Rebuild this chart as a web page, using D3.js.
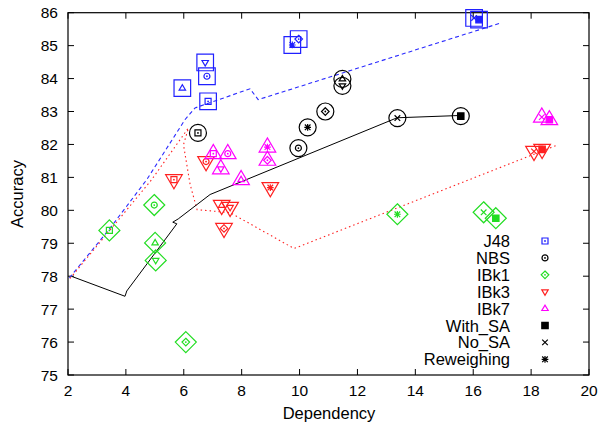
<!DOCTYPE html>
<html><head><meta charset="utf-8">
<script src="https://cdn.jsdelivr.net/npm/d3@7"></script>
<style>body{margin:0;background:#fff}svg{display:block}text{font-family:"Liberation Sans",Arial,Helvetica,sans-serif}</style>
</head><body><svg id="c" width="598" height="427"></svg>
<script>
// ---- data ----
const classifiers = ["J48","NBS","IBk1","IBk3","IBk7"];
const methods = ["With_SA","No_SA","Reweighing"];
const xTicks = [2,4,6,8,10,12,14,16,18,20];
const yTicks = [75,76,77,78,79,80,81,82,83,84,85,86];
// points: [dependency, accuracy, inner marker]
const j48Pts = [[5.95,83.71,"IBk7"],[6.74,84.49,"IBk3"],[6.80,84.07,"NBS"],[6.84,83.31,"J48"],[9.97,85.20,"IBk1"],[9.75,85.02,"Reweighing"],[16.03,85.84,"No_SA"],[16.20,85.79,"With_SA"]];
const nbsPts = [[6.49,82.35,"J48"],[11.48,83.99,"IBk7"],[11.48,83.78,"IBk3"],[10.89,83.00,"IBk1"],[10.28,82.52,"Reweighing"],[9.96,81.89,"NBS"],[13.38,82.80,"No_SA"],[15.57,82.86,"With_SA"]];
const ibk1Pts = [[3.43,79.39,"J48"],[4.98,80.16,"NBS"],[5.01,79.01,"IBk7"],[5.03,78.48,"IBk3"],[6.07,76.00,"IBk1"],[13.38,79.88,"Reweighing"],[16.36,79.94,"No_SA"],[16.78,79.76,"With_SA"]];
const ibk3Pts = [[5.66,80.93,"J48"],[6.77,81.48,"NBS"],[7.31,80.15,"IBk7"],[7.60,80.09,"IBk3"],[8.99,80.69,"Reweighing"],[7.39,79.45,"IBk1"],[18.10,81.79,"No_SA"],[18.38,81.85,"With_SA"]];
const ibk7Pts = [[7.02,81.72,"J48"],[7.52,81.72,"NBS"],[7.28,81.26,"IBk3"],[7.98,80.93,"IBk7"],[8.89,81.92,"Reweighing"],[8.89,81.52,"IBk1"],[18.37,82.83,"No_SA"],[18.63,82.75,"With_SA"]];
const blueLine = [[2.05,77.95],[3.42,79.42],[4.72,80.93],[6.04,82.75],[6.39,83.11],[8.29,83.69],[8.57,83.36],[16.96,85.69]];
const redLine = [[2.07,77.93],[4.89,80.93],[6.16,82.50],[5.99,81.99],[6.22,80.78],[6.46,80.02],[7.60,79.93],[9.81,78.84],[18.93,81.99]];
const blackLine = [[2.14,77.99],[3.97,77.39],[4.03,77.55],[5.76,79.59],[5.62,79.64],[5.81,79.74],[6.91,80.48],[13.37,82.81],[15.57,82.88]];

// ---- setup ----
const svg = d3.select("#c");
const L=68, R=589, T=12.7, B=375;
const x = d3.scaleLinear().domain([2,20]).range([L,R]);
const y = d3.scaleLinear().domain([75,86]).range([B,T]);
const colors = {J48:"#2020ff",NBS:"#000",IBk1:"#22dd22",IBk3:"#ff2020",IBk7:"#ff00ff"};
const shapeOf = {J48:"box",NBS:"circle",IBk1:"diamond",IBk3:"tdown",IBk7:"tup",With_SA:"fbox",No_SA:"cross",Reweighing:"star"};

function shapePath(shape, s){
  const p = d3.path();
  switch(shape){
    case "box": p.rect(-s,-s,2*s,2*s); break;
    case "fbox": p.rect(-s,-s,2*s,2*s); break;
    case "circle": p.arc(0,0,s,0,2*Math.PI); break;
    case "diamond": p.moveTo(0,-s);p.lineTo(s,0);p.lineTo(0,s);p.lineTo(-s,0);p.closePath(); break;
    case "tdown": p.moveTo(-s,-s*0.6);p.lineTo(s,-s*0.6);p.lineTo(0,s*1.1);p.closePath(); break;
    case "tup": p.moveTo(-s,s*0.6);p.lineTo(s,s*0.6);p.lineTo(0,-s*1.1);p.closePath(); break;
    case "cross": p.moveTo(-s,-s);p.lineTo(s,s);p.moveTo(-s,s);p.lineTo(s,-s); break;
    case "star": p.moveTo(-s,-s);p.lineTo(s,s);p.moveTo(-s,s);p.lineTo(s,-s);p.moveTo(0,-s*1.2);p.lineTo(0,s*1.2);p.moveTo(-s*1.2,0);p.lineTo(s*1.2,0); break;
  }
  return p.toString();
}
function dotted(shape){ return ["box","circle","diamond"].includes(shape); }
function drawSmall(g, name, color){
  const sh = shapeOf[name];
  const s = {box:3,circle:3,diamond:3.8,tdown:3.2,tup:3.2,fbox:3.2,cross:2.8,star:2.8}[sh];
  g.append("path").attr("d",shapePath(sh,s))
    .attr("fill", sh==="fbox"?color:"none").attr("stroke",color).attr("stroke-width",1.2);
  if(dotted(sh)) g.append("circle").attr("r",0.9).attr("fill",color);
}
function drawBig(g, name, color){
  const sh = shapeOf[name];
  const s = {box:8.3,circle:8.5,diamond:10.5,tdown:8.3,tup:8.3}[sh];
  g.append("path").attr("d",shapePath(sh,s)).attr("fill","none").attr("stroke",color).attr("stroke-width",1.2);
}

// ---- frame & ticks ----
const ax = svg.append("g").attr("stroke","#000").attr("stroke-width",1);
xTicks.forEach(v=>{
  ax.append("line").attr("x1",x(v)).attr("x2",x(v)).attr("y1",B).attr("y2",B-6);
  ax.append("line").attr("x1",x(v)).attr("x2",x(v)).attr("y1",T).attr("y2",T+6);
  svg.append("text").attr("x",x(v)).attr("y",B+21).attr("text-anchor","middle").attr("font-size",15.5).text(v);
});
yTicks.forEach(v=>{
  ax.append("line").attr("x1",L).attr("x2",L+6).attr("y1",y(v)).attr("y2",y(v));
  ax.append("line").attr("x1",R).attr("x2",R-6).attr("y1",y(v)).attr("y2",y(v));
  svg.append("text").attr("x",L-10).attr("y",y(v)+5.5).attr("text-anchor","end").attr("font-size",15.5).text(v);
});
svg.append("rect").attr("x",L).attr("y",T).attr("width",R-L).attr("height",B-T).attr("fill","none").attr("stroke","#000").attr("stroke-width",1.2);
svg.append("text").attr("x",329).attr("y",419).attr("text-anchor","middle").attr("font-size",16.5).text("Dependency");
svg.append("text").attr("transform","translate(23,194) rotate(-90)").attr("text-anchor","middle").attr("font-size",16.5).text("Accuracy");

// ---- lines ----
const line = d3.line().x(d=>x(d[0])).y(d=>y(d[1]));
svg.append("path").attr("d",line(blueLine)).attr("fill","none").attr("stroke","#2a2aff").attr("stroke-width",1.1).attr("stroke-dasharray","4,3");
svg.append("path").attr("d",line(redLine)).attr("fill","none").attr("stroke","#ff2020").attr("stroke-width",1.1).attr("stroke-dasharray","1.5,3");
svg.append("path").attr("d",line(blackLine)).attr("fill","none").attr("stroke","#000").attr("stroke-width",1);

// ---- points ----
const groups = [["J48",j48Pts],["NBS",nbsPts],["IBk1",ibk1Pts],["IBk3",ibk3Pts],["IBk7",ibk7Pts]];
groups.forEach(([name,pts])=>{
  const col = colors[name];
  pts.forEach(d=>{
    const g = svg.append("g").attr("transform",`translate(${x(d[0])},${y(d[1])})`);
    drawBig(g,name,col);
    drawSmall(g,d[2],col);
  });
});

// ---- legend ----
const legItems = classifiers.concat(methods);
legItems.forEach((name,i)=>{
  const yy = 241 + i*16.9;
  svg.append("text").attr("x",510).attr("y",yy+6).attr("text-anchor","end").attr("font-size",16.5).text(name);
  const col = colors[name] || "#000";
  const g = svg.append("g").attr("transform",`translate(545,${yy})`);
  drawSmall(g,name,col);
});
</script></body></html>
